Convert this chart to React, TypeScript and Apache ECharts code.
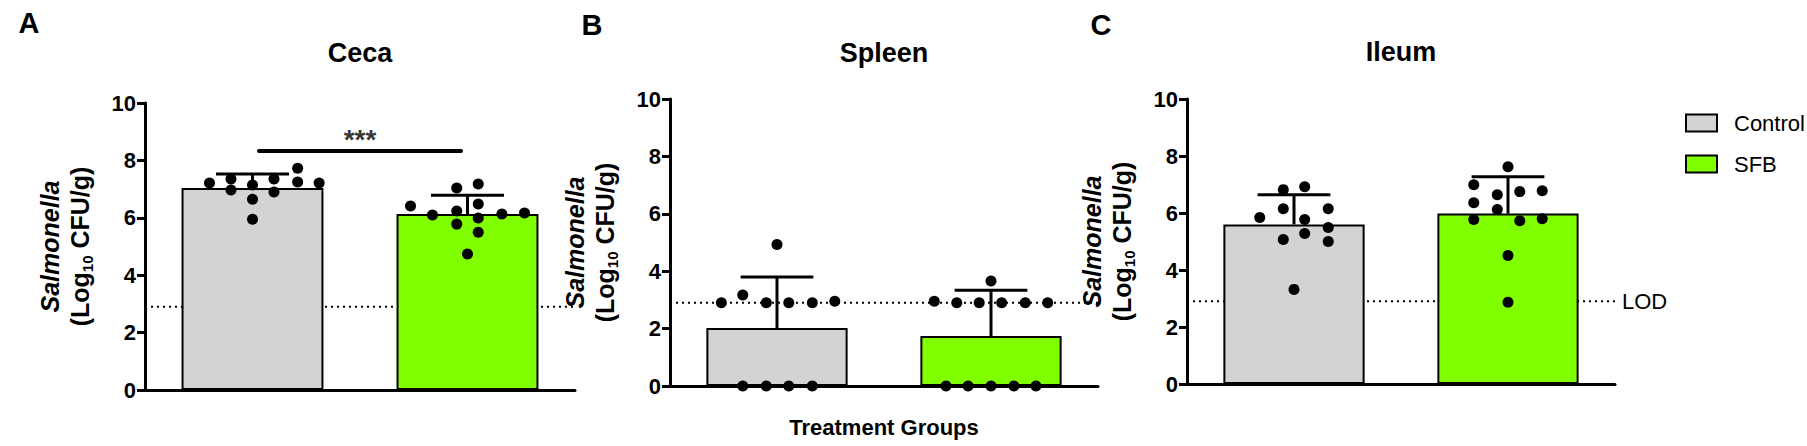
import React, { useEffect, useRef } from "react";
import * as echarts from "echarts";

// ---------- data ----------
const panels = ["Ceca", "Spleen", "Ileum"];
const panelLetters = ["A", "B", "C"];
const groups = ["Control", "SFB"];
const yTicks = [0, 2, 4, 6, 8, 10];
const LOD = 2.9;

// group means (bar heights)
const controlMeans = [7.04, 2.02, 5.6];
const sfbMeans = [6.13, 1.74, 5.98];
// upper end of error bars (mean + SD)
const controlUpper = [7.53, 3.8, 6.64];
const sfbUpper = [6.79, 3.34, 7.27];

// individual animals: [horizontal jitter (in category units), log10 CFU/g]
const cecaControlDots = [
  [-0.2, 7.21], [-0.1, 7.35], [-0.1, 6.97], [0, 7.14], [0, 6.65], [0, 5.95],
  [0.1, 7.35], [0.1, 6.9], [0.21, 7.73], [0.21, 7.25], [0.31, 7.21],
];
const cecaSfbDots = [
  [-0.265, 6.41], [-0.163, 6.1], [-0.05, 7.04], [-0.05, 6.24], [-0.05, 5.78], [0, 4.74],
  [0.05, 7.18], [0.05, 6.48], [0.05, 5.99], [0.05, 5.5], [0.16, 6.13], [0.265, 6.17],
];
const spleenControlDots = [
  [-0.26, 2.9], [-0.16, 3.17], [-0.05, 2.9], [0.055, 2.9], [0.165, 2.9], [0.27, 2.95],
  [0, 4.93], [-0.16, 0], [-0.05, 0], [0.055, 0], [0.165, 0],
];
const spleenSfbDots = [
  [-0.265, 2.95], [-0.16, 2.9], [-0.055, 2.9], [0.05, 2.9], [0.16, 2.9], [0.265, 2.9],
  [0, 3.66], [-0.21, 0], [-0.107, 0], [0, 0], [0.107, 0], [0.21, 0],
];
const ileumControlDots = [
  [-0.16, 5.84], [-0.05, 6.82], [-0.05, 6.15], [-0.05, 5.07], [0.05, 6.92], [0.05, 5.77],
  [0.05, 5.28], [0.16, 6.15], [0.16, 5.49], [0.16, 5.0], [0, 3.32],
];
const ileumSfbDots = [
  [0, 7.62], [-0.16, 6.99], [-0.05, 6.64], [0.055, 6.75], [0.16, 6.78], [-0.16, 6.36],
  [-0.05, 6.12], [-0.16, 5.77], [0.055, 5.73], [0.16, 5.8], [0, 4.51], [0, 2.87],
];
const controlDots = [cecaControlDots, spleenControlDots, ileumControlDots];
const sfbDots = [cecaSfbDots, spleenSfbDots, ileumSfbDots];

// significance (Ceca): bar height and label
const sigLevel = 8.33;
const sigLabel = "***";

// ---------- styling ----------
const FONT = '"Liberation Sans", Arial, Helvetica, sans-serif';
const GRAY = "#d3d3d3";
const GREEN = "#80ff00";
const BLACK = "#000000";
const LW = 3;
const gridsGeom = [
  { left: 145, top: 103, width: 430, height: 287 },
  { left: 670, top: 99, width: 428, height: 287 },
  { left: 1187, top: 99, width: 428, height: 285 },
];
const titlePos = [
  [360, 53],
  [884, 53],
  [1401, 52],
];
const letterPos = [
  [29, 23],
  [592, 25],
  [1101, 25],
];

function buildOption() {
  const grid = gridsGeom.map((g) => ({ ...g }));
  const xAxis: any[] = [];
  const yAxis: any[] = [];
  const series: any[] = [];

  panels.forEach((_, i) => {
    // category axis (bars, ticks)
    xAxis.push({
      type: "category",
      gridIndex: i,
      data: groups,
      position: "bottom",
      axisLine: { onZero: false, lineStyle: { color: BLACK, width: LW } },
      axisTick: { alignWithLabel: true, length: 8, lineStyle: { color: BLACK, width: LW } },
      axisLabel: { show: false },
      name: i === 1 ? "Treatment Groups" : "",
      nameLocation: "middle",
      nameGap: 30,
      nameTextStyle: { fontFamily: FONT, fontWeight: "bold", fontSize: 22, color: BLACK },
    });
    yAxis.push({
      type: "value",
      gridIndex: i,
      min: 0,
      max: 10,
      interval: 2,
      axisLine: { show: true, onZero: false, lineStyle: { color: BLACK, width: LW } },
      axisTick: { show: true, length: 8, lineStyle: { color: BLACK, width: LW } },
      splitLine: { show: false },
      axisLabel: {
        fontFamily: FONT,
        fontWeight: "bold",
        fontSize: 22,
        color: BLACK,
        margin: 9,
        formatter: (v: number) => (yTicks.includes(v) ? String(v) : ""),
      },
      name: "{a|Salmonella}\n{b|(Log}{c|10}{b| CFU/g)}",
      nameLocation: "middle",
      nameRotate: 90,
      nameGap: 50,
      nameTextStyle: {
        rich: {
          a: { fontFamily: FONT, fontStyle: "italic", fontWeight: "bold", fontSize: 25, lineHeight: 30, color: BLACK },
          b: { fontFamily: FONT, fontWeight: "bold", fontSize: 25, lineHeight: 30, color: BLACK },
          c: { fontFamily: FONT, fontWeight: "bold", fontSize: 15, lineHeight: 30, color: BLACK, verticalAlign: "bottom", padding: [10, 0, 0, 0] },
        },
      },
    });
  });
  // hidden value x axes for jittered dots and reference lines
  panels.forEach((_, i) => {
    xAxis.push({
      type: "value",
      gridIndex: i,
      min: -0.5,
      max: 1.5,
      position: "top",
      show: false,
    });
  });

  panels.forEach((p, i) => {
    const catX = i;
    const valX = i + panels.length;
    // LOD dotted line (behind the bars)
    series.push({
      type: "line",
      name: "LOD-" + p,
      xAxisIndex: valX,
      yAxisIndex: i,
      data: [
        [-0.5, LOD],
        [1.5, LOD],
      ],
      symbol: "none",
      silent: true,
      z: 1,
      lineStyle: { color: BLACK, width: 2, type: [2, 4] },
      endLabel:
        i === panels.length - 1
          ? { show: true, formatter: "LOD", distance: 7, fontFamily: FONT, fontSize: 22, color: BLACK }
          : { show: false },
    });
    // bars
    series.push({
      type: "bar",
      name: "Control",
      xAxisIndex: catX,
      yAxisIndex: i,
      data: [controlMeans[i], "-"],
      barWidth: "66%",
      barGap: "-100%",
      z: 2,
      itemStyle: { color: GRAY, borderColor: BLACK, borderWidth: 2 },
    });
    series.push({
      type: "bar",
      name: "SFB",
      xAxisIndex: catX,
      yAxisIndex: i,
      data: ["-", sfbMeans[i]],
      barWidth: "66%",
      barGap: "-100%",
      z: 2,
      itemStyle: { color: GREEN, borderColor: BLACK, borderWidth: 2 },
    });
    // error bars (upper only)
    series.push({
      type: "custom",
      name: "err-" + p,
      xAxisIndex: catX,
      yAxisIndex: i,
      z: 3,
      silent: true,
      data: [
        [0, controlMeans[i], controlUpper[i]],
        [1, sfbMeans[i], sfbUpper[i]],
      ],
      renderItem: (params: any, api: any) => {
        const x = api.value(0);
        const p1 = api.coord([x, api.value(1)]);
        const p2 = api.coord([x, api.value(2)]);
        const hw = api.size([1, 0])[0] * 0.17;
        const st = { stroke: BLACK, lineWidth: LW };
        return {
          type: "group",
          children: [
            { type: "line", shape: { x1: p1[0], y1: p1[1], x2: p2[0], y2: p2[1] }, style: st },
            { type: "line", shape: { x1: p2[0] - hw, y1: p2[1], x2: p2[0] + hw, y2: p2[1] }, style: st },
          ],
        };
      },
    });
    // dots
    series.push({
      type: "scatter",
      name: "dotsC-" + p,
      xAxisIndex: valX,
      yAxisIndex: i,
      symbolSize: 11,
      z: 4,
      itemStyle: { color: BLACK, opacity: 1 },
      data: controlDots[i].map((d) => [0 + d[0], d[1]]),
    });
    series.push({
      type: "scatter",
      name: "dotsS-" + p,
      xAxisIndex: valX,
      yAxisIndex: i,
      symbolSize: 11,
      z: 4,
      itemStyle: { color: BLACK, opacity: 1 },
      data: sfbDots[i].map((d) => [1 + d[0], d[1]]),
    });
    if (i === 0) {
      series.push({
        type: "line",
        name: "sig",
        xAxisIndex: valX,
        yAxisIndex: i,
        data: [
          [0.03, sigLevel],
          [0.97, sigLevel],
        ],
        symbol: "none",
        z: 4,
        lineStyle: { color: BLACK, width: 4, cap: "round" },
      });
      series.push({
        type: "scatter",
        name: "sigLabel",
        xAxisIndex: valX,
        yAxisIndex: i,
        data: [[0.5, sigLevel]],
        symbolSize: 0,
        z: 4,
        label: {
          show: true,
          position: "top",
          distance: -3,
          formatter: sigLabel,
          fontFamily: FONT,
          fontWeight: "bold",
          fontSize: 28,
          color: BLACK,
        },
      });
    }
  });

  const graphic: any[] = [];
  panels.forEach((p, i) => {
    graphic.push({
      type: "text",
      x: titlePos[i][0],
      y: titlePos[i][1],
      style: {
        text: p,
        fontFamily: FONT,
        fontWeight: "bold",
        fontSize: 27,
        fill: BLACK,
        align: "center",
        verticalAlign: "middle",
      },
    });
    graphic.push({
      type: "text",
      x: letterPos[i][0],
      y: letterPos[i][1],
      style: {
        text: panelLetters[i],
        fontFamily: FONT,
        fontWeight: "bold",
        fontSize: 29,
        fill: BLACK,
        align: "center",
        verticalAlign: "middle",
      },
    });
  });

  return {
    animation: false,
    backgroundColor: "#ffffff",
    textStyle: { fontFamily: FONT },
    grid,
    xAxis,
    yAxis,
    series,
    graphic,
    legend: {
      orient: "vertical",
      left: 1680,
      top: 107,
      itemWidth: 31,
      itemHeight: 17,
      itemGap: 19,
      icon: "rect",
      selectedMode: false,
      data: groups,
      textStyle: { fontFamily: FONT, fontSize: 22, color: BLACK, lineHeight: 22, padding: [0, 0, 0, 12] },
    },
  };
}

export default function App() {
  const ref = useRef<HTMLDivElement>(null);
  useEffect(() => {
    if (!ref.current) return;
    const chart = echarts.init(ref.current, undefined, { renderer: "svg" });
    chart.setOption(buildOption() as any);
    return () => chart.dispose();
  }, []);
  return (
    <div
      ref={ref}
      style={{ position: "fixed", left: 0, top: 0, width: 1807, height: 446, background: "#fff" }}
    />
  );
}
